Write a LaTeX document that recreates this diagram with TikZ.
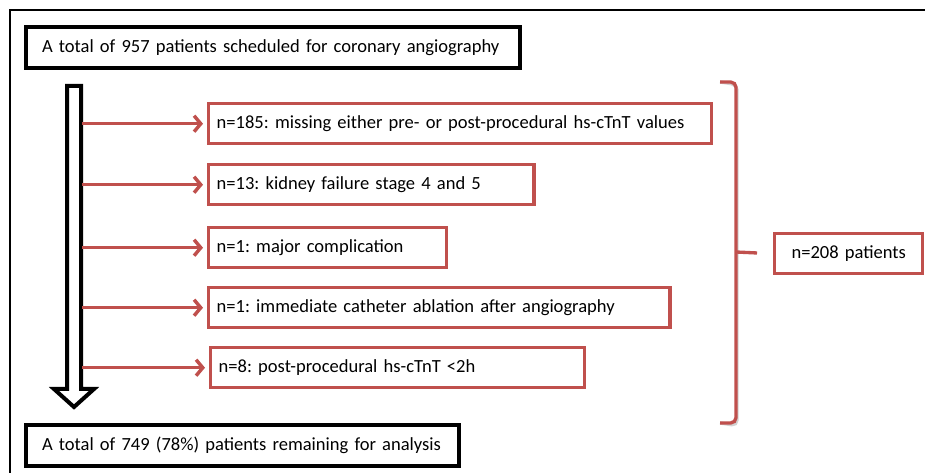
\documentclass[tikz,border=0pt]{standalone}
\usepackage{fontspec}
\setmainfont{Carlito}
\usetikzlibrary{arrows.meta}
\definecolor{exred}{HTML}{C0504D}
\tikzstyle{mainbox} = [rectangle, anchor=north west, minimum height=30.75pt, inner xsep=12pt, align=left, draw=black, line width=3pt]
\tikzstyle{exclbox} = [rectangle, anchor=north west, minimum height=30pt, inner xsep=6pt, align=left, draw=exred, line width=2.6pt]
\tikzstyle{arrow} = [draw=exred, line width=2.6pt, -{Straight Barb[length=5pt,width=12pt]}, shorten >=3pt]
\tikzstyle{brace} = [draw=exred, line width=2.5pt, rounded corners=4pt]

\begin{document}
\frenchspacing
\begin{tikzpicture}[x=0.75pt, y=-0.75pt, font=\fontsize{13.9}{16}\selectfont]

    \useasboundingbox (0,0) rectangle (925,473);
    \draw [line width=2.2pt] (925,10) -- (10,10) -- (10,473);

    \node (start) [mainbox, text width=346.5pt] at (24,25) {\mbox{A total of 957 patients scheduled for coronary angiography}};
    \node (ex1) [exclbox, text width=365pt] at (207,102) {\mbox{n=185: missing either pre- or post-procedural hs-cTnT values}};
    \node (ex2) [exclbox, text width=232pt] at (207,163) {n=13: kidney failure stage 4 and 5};
    \node (ex3) [exclbox, text width=166.5pt] at (207,226) {n=1: major complication};
    \node (ex4) [exclbox, text width=334pt] at (207,286) {\mbox{n=1: immediate catheter ablation after angiography}};
    \node (ex5) [exclbox, text width=268.5pt] at (209,346) {n=8: post-procedural hs-cTnT <2h};
    \node (total) [exclbox, text width=99pt, align=center] at (773,232) {n=208 patients};
    \node (final) [mainbox, text width=301pt] at (24,423) {\mbox{A total of 749 (78\%) patients remaining for analysis}};

    % hollow flow arrow
    \draw [line width=3pt, fill=white] (67,86) -- (81,86) -- (81,389) -- (94,389) -- (74,407) -- (54,389) -- (67,389) -- cycle;
    \coordinate (shaft) at (82,0);

    \draw [arrow] (shaft |- ex1.west) -- (ex1.west);
    \draw [arrow] (shaft |- ex2.west) -- (ex2.west);
    \draw [arrow] (shaft |- ex3.west) -- (ex3.west);
    \draw [arrow] (shaft |- ex4.west) -- (ex4.west);
    \draw [arrow] (shaft |- ex5.west) -- (ex5.west);

    % brace
    \coordinate (btop) at (720,82);
    \coordinate (bbot) at (720,423);
    \coordinate (bmid) at (736,252);
    \draw [brace, draw=gray!35, shift={(1,2.5)}] (btop) -- (736,82) -- (736,423) -- (bbot);
    \draw [brace] (btop) -- (736,82) -- (736,423) -- (bbot);
    \draw [brace, rounded corners=0pt, shorten >=12pt] (bmid) -- (total.west);

\end{tikzpicture}
\end{document}
